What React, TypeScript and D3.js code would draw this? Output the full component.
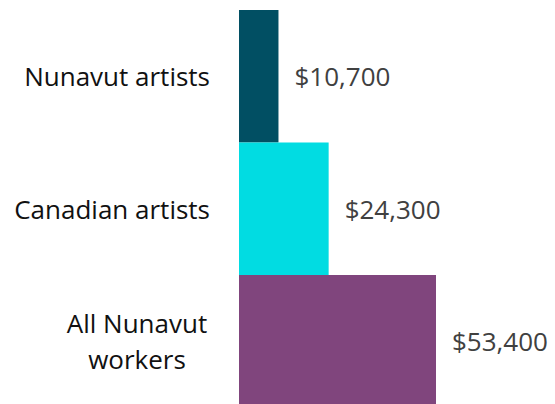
import React from "react";
import * as d3 from "d3";

const categories = ["Nunavut artists", "Canadian artists", "All Nunavut workers"];
const categoryLines = [["Nunavut artists"], ["Canadian artists"], ["All Nunavut", "workers"]];
const values = [10700, 24300, 53400];
const valueLabels = ["$10,700", "$24,300", "$53,400"];
const colors = ["#014f63", "#01dce2", "#80457d"];

const W = 555;
const H = 404;

export default function App() {
  const x0 = 239;
  const x = d3.scaleLinear().domain([0, 53400]).range([x0, x0 + 197]);
  const y = d3.scaleBand<string>().domain(categories).range([10, 407.5]).padding(0);
  const font = "'Open Sans', sans-serif";
  return (
    <svg width={W} height={H} style={{ position: "absolute", left: 0, top: 0, background: "#fff" }}>
      {categories.map((c, i) => {
        const yc = (y(c) as number) + y.bandwidth() / 2;
        const lines = categoryLines[i];
        const lh = 36;
        const multi = lines.length > 1;
        return (
          <g key={c}>
            <rect x={x(0)} y={y(c)} width={x(values[i]) - x(0)} height={y.bandwidth()} fill={colors[i]} />
            <text x={x(values[i]) + 16} y={yc + 1} dy="0.35em" fontFamily={font} fontSize={26} fill="#404040">
              {valueLabels[i]}
            </text>
            {lines.map((l, j) => (
              <text
                key={j}
                x={multi ? 137 : 210}
                y={yc + 1 + (j - (lines.length - 1) / 2) * lh}
                dy="0.35em"
                textAnchor={multi ? "middle" : "end"}
                fontFamily={font}
                fontSize={26}
                fill="#111"
              >
                {l}
              </text>
            ))}
          </g>
        );
      })}
    </svg>
  );
}
